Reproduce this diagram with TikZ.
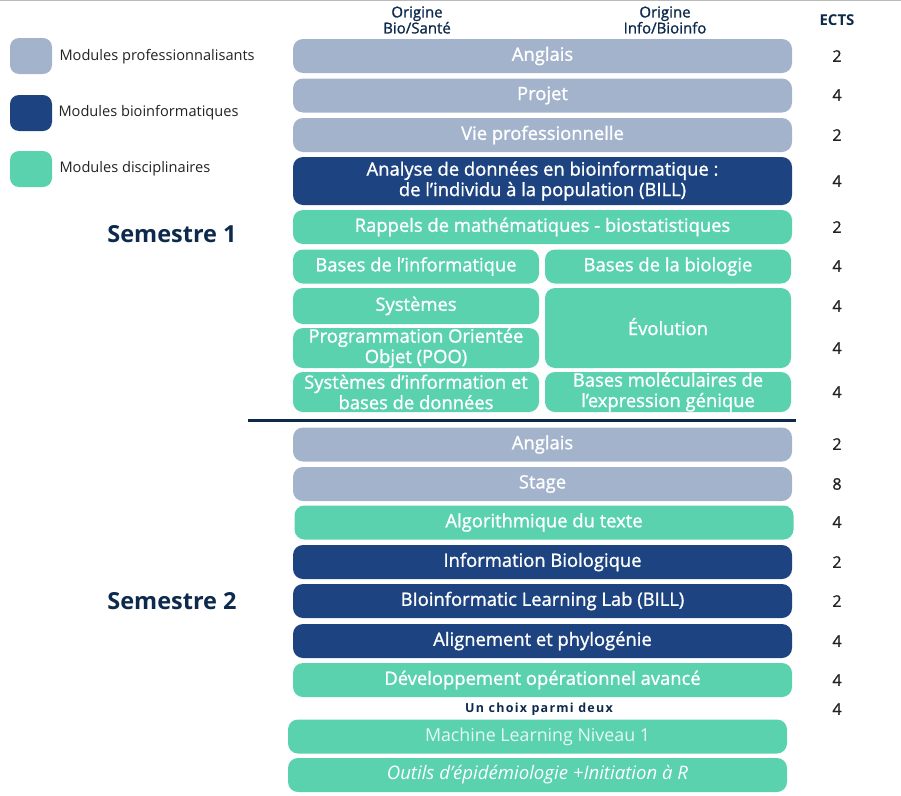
\documentclass[tikz,border=0pt]{standalone}
\usepackage{fontspec}
\setmainfont{Open Sans}
\newfontfamily\semib[FakeBold=1.2]{Open Sans}
\newfontfamily\spaced[LetterSpace=10]{Open Sans}
\definecolor{pro}{HTML}{A3B3CC}
\definecolor{bio}{HTML}{1D4480}
\definecolor{dis}{HTML}{5AD2AE}
\definecolor{navy}{HTML}{0D2A4D}
\definecolor{ects}{HTML}{222222}
\tikzset{
  modbox/.style={rounded corners=10pt, inner sep=0pt, align=center, text=white,
    font=\fontsize{18.4}{20.5}\semib, minimum width=499pt, minimum height=34pt},
  halfbox/.style={modbox, minimum width=246pt},
  legbox/.style={rounded corners=9pt, minimum width=42pt, minimum height=36pt, inner sep=0pt},
  legtext/.style={anchor=west, font=\fontsize{14.6}{16}\selectfont, text=ects},
  ectsnum/.style={font=\fontsize{16}{17}\semib, text=ects},
  semtitle/.style={font=\fontsize{23.5}{25}\selectfont\bfseries, text=navy},
  colhead/.style={align=center, font=\fontsize{15}{16}\semib, text=navy}
}
\begin{document}
\begin{tikzpicture}[x=1pt, y=-1pt]
  \useasboundingbox (0,0) rectangle (901,795);
  % Define column bounds
  \def\xL{293} \def\xR{792}
  \pgfmathsetmacro{\xC}{(\xL+\xR)/2}   % centre of full row
  \pgfmathsetmacro{\xA}{\xL+123}      % centre of left half
  \pgfmathsetmacro{\xB}{\xR-124}      % centre of right half
  \def\xE{837}                        % ECTS column

  % Thin line at the top edge
  \draw[gray!55, line width=1.5pt] (0,0.5) -- (901,0.5);

  % Legend
  \node[legbox, fill=pro] (lp) at (31,56) {};
  \node[legbox, fill=bio] (lb) at (31,113) {};
  \node[legbox, fill=dis] (ld) at (31,169) {};
  \node[legtext] (lpt) at (56,57) {Modules professionnalisants};
  \node[legtext] (lbt) at (55,113) {Modules bioinformatiques};
  \node[legtext] (ldt) at (56,169) {Modules disciplinaires};

  % Column headers
  \node[colhead] (hbio) at (417,20) {Origine\\Bio/Santé};
  \node[colhead] (hinfo) at (665,20) {Origine\\Info/Bioinfo};
  \node[font=\fontsize{15}{17}\selectfont\bfseries, text=navy] (hects) at (\xE,20) {ECTS};

  % Semester titles
  \node[semtitle] (s1) at (172,234) {Semestre 1};
  \node[semtitle] (s2) at (172,601) {Semestre 2};

  % Semestre 1
  \node[modbox, fill=pro] (ang1) at (\xC,56) {Anglais};
  \node[modbox, fill=pro] (proj) at (\xC,95.5) {Projet};
  \node[modbox, fill=pro] (vie) at (\xC,135) {Vie professionnelle};
  \node[modbox, fill=bio, minimum height=48pt] (bill1) at (\xC,181)
    {Analyse de données en bioinformatique :\\de l’individu à la population (BILL)};
  \node[modbox, fill=dis] (math) at (\xC,227) {Rappels de mathématiques - biostatistiques};
  \node[halfbox, fill=dis] (binf) at (\xA,266.5) {Bases de l’informatique};
  \node[halfbox, fill=dis] (bbio) at (\xB,266.5) {Bases de la biologie};
  \node[halfbox, fill=dis, minimum height=36pt] (sys) at (\xA,306) {Systèmes};
  \node[halfbox, fill=dis, minimum height=40pt] (poo) at (\xA,348)
    {Programmation Orientée\\Objet (POO)};
  \node[halfbox, fill=dis, minimum height=80pt] (evo) at (\xB,328) {\raisebox{3pt}{Évolution}};
  \node[halfbox, fill=dis, minimum height=40pt] (sibd) at (\xA,392)
    {Systèmes d’information et\\bases de données};
  \node[halfbox, fill=dis, minimum height=40pt] (bmol) at (\xB,392)
    {Bases moléculaires de\\l’expression génique};

  % Separator between semesters
  \coordinate (sepL) at (248,420);
  \coordinate (sepR) at (796,420);
  \draw[navy, line width=3pt] (sepL) -- (sepR);

  % Semestre 2
  \node[modbox, fill=pro] (ang2) at (\xC,444.5) {Anglais};
  \node[modbox, fill=pro] (stage) at (\xC,484) {Stage};
  \node[modbox, fill=dis] (algo) at (\xC+1.5,522.5) {Algorithmique du texte};
  \node[modbox, fill=bio] (info) at (\xC,562) {Information Biologique};
  \node[modbox, fill=bio] (bill2) at (\xC,601) {BIoinformatic Learning Lab (BILL)};
  \node[modbox, fill=bio] (align) at (\xC,641) {Alignement et phylogénie};
  \node[modbox, fill=dis] (dev) at (\xC,680) {Développement opérationnel avancé};
  \node[font=\fontsize{12.5}{13}\spaced\bfseries, text=navy] (choix) at (539,709) {Un choix parmi deux};
  \node[modbox, fill=dis, text=white!85!dis, font=\fontsize{17.8}{20}\selectfont] (ml)
    at (\xC-5,736.5) {Machine Learning Niveau 1};
  \node[modbox, fill=dis, font=\fontsize{18.6}{20}\selectfont\itshape] (epi) at (\xC-5,775)
    {Outils d’épidémiologie +Initiation à R};

  % ECTS column
  \foreach \y/\v [count=\i] in {56/2, 95/4, 135/2, 181/4, 227/2, 266/4, 306/4, 348/4, 392/4,
      444/2, 484/8, 522/4, 562/2, 601/2, 641/4, 680/4, 709/4}
    \node[ectsnum] (e\i) at (\xE,\y) {\v};
\end{tikzpicture}
\end{document}
